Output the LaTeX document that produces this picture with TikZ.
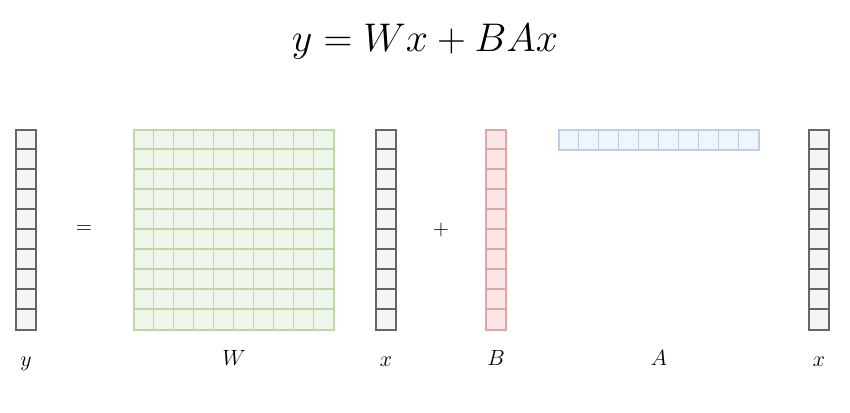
\documentclass[tikz,border=0pt]{standalone}
\usepackage{fix-cm}
\usepackage{amsmath}
\usetikzlibrary{positioning}

\definecolor{grayfill}{HTML}{F5F5F5}
\definecolor{grayline}{HTML}{666666}
\definecolor{greenfill}{HTML}{EEF6EC}
\definecolor{greenline}{HTML}{BCD8A9}
\definecolor{redfill}{HTML}{FCE6E5}
\definecolor{redline}{HTML}{DBA6A4}
\definecolor{bluefill}{HTML}{EFF5FD}
\definecolor{blueline}{HTML}{BDCEE5}

\newcommand\lblfont{\fontsize{22}{26}\selectfont}

\tikzset{
  box/.style={draw=#1line, fill=#1fill, line width=1.5pt, inner sep=0pt},
  vec/.style={box=#1, minimum width=20pt, minimum height=200pt},
  lbl/.style={font=\lblfont},
}

\begin{document}
\begin{tikzpicture}[x=1pt,y=1pt]
  \useasboundingbox (0,0) rectangle (850,412);
  \node[font=\fontsize{40}{48}\selectfont] (Title) at (425,370) {\(y = Wx + BAx\)};

  \node[vec=gray, line width=2pt] (Y) at (26,182) {};
  \node[on grid, right=208pt of Y, box=green, minimum width=200pt, minimum height=200pt] (W) {};
  \node[on grid, right=152pt of W, vec=gray, line width=2pt] (X1) {};
  \node[on grid, right=110pt of X1, vec=red] (B) {};
  \node[on grid, above right=90pt and 163pt of B, box=blue, minimum width=200pt, minimum height=20pt] (A) {};
  \node[on grid, right=323pt of B, vec=gray, line width=2pt] (X2) {};

  \node[on grid, right=58pt of Y, lbl] (Eq) {\(=\)};
  \node[on grid, right=55pt of X1, lbl] (Plus) {\(+\)};

  \foreach \v/\c/\w in {Y/gray/2, X1/gray/2, B/red/1.5, X2/gray/2}
    \foreach \i in {1,...,9}
      \draw[draw=\c line, line width=\w pt] ([yshift={-\i*20pt}]\v.north west) -- ([yshift={-\i*20pt}]\v.north east);
  \foreach \i in {1,...,9} {
    \draw[greenline, line width=1.5pt] ([xshift={\i*20pt}]W.north west) -- ([xshift={\i*20pt}]W.south west);
    \draw[greenline, line width=1.5pt] ([yshift={-\i*20pt}]W.north west) -- ([yshift={-\i*20pt}]W.north east);
    \draw[blueline, line width=1.5pt] ([xshift={\i*20pt}]A.north west) -- ([xshift={\i*20pt}]A.south west);
  }

  \node[on grid, below=35pt of Y.south, anchor=base, lbl] (LY) {\(y\)};
  \node[on grid, below=35pt of W.south, anchor=base, lbl] (LW) {\(W\)};
  \node[on grid, below=35pt of X1.south, anchor=base, lbl] (LX1) {\(x\)};
  \node[on grid, below=35pt of B.south, anchor=base, lbl] (LB) {\(B\)};
  \node[lbl, anchor=base] (LA) at (A |- LW.base) {\(A\)};
  \node[on grid, below=35pt of X2.south, anchor=base, lbl] (LX2) {\(x\)};
\end{tikzpicture}
\end{document}
